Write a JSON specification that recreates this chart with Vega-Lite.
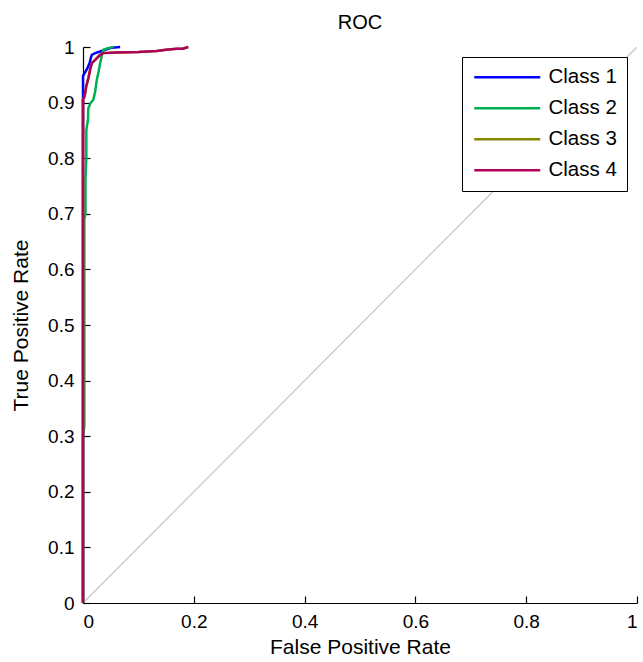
{
  "$schema": "https://vega.github.io/schema/vega-lite/v6.json",
  "autosize": "none",
  "width": 554,
  "height": 556,
  "padding": {"left": 83, "top": 47, "right": 6, "bottom": 59},
  "background": "white",
  "title": {"text": "ROC", "fontSize": 20, "font": "Liberation Sans", "fontWeight": "normal", "color": "black", "offset": 5},
  "config": {
    "view": {"stroke": null},
    "axis": {
      "domainColor": "black", "tickColor": "black", "labelColor": "black", "titleColor": "black",
      "labelFont": "Liberation Sans", "titleFont": "Liberation Sans", "labelFontSize": 19, "titleFontSize": 21,
      "titleFontWeight": "normal", "grid": false, "tickSize": -7, "labelPadding": 16, "domainWidth": 1.2, "tickWidth": 1.2
    }
  },
  "datasets": {
    "diag": [{"fpr": 0, "tpr": 0}, {"fpr": 1, "tpr": 1}],
    "roc": [
      {"cls": "Class 1", "ord": 1, "fpr": 0, "tpr": 0},
      {"cls": "Class 1", "ord": 2, "fpr": 0, "tpr": 0.948},
      {"cls": "Class 1", "ord": 3, "fpr": 0.004, "tpr": 0.955},
      {"cls": "Class 1", "ord": 4, "fpr": 0.008, "tpr": 0.962},
      {"cls": "Class 1", "ord": 5, "fpr": 0.012, "tpr": 0.971},
      {"cls": "Class 1", "ord": 6, "fpr": 0.014, "tpr": 0.98},
      {"cls": "Class 1", "ord": 7, "fpr": 0.016, "tpr": 0.986},
      {"cls": "Class 1", "ord": 8, "fpr": 0.022, "tpr": 0.989},
      {"cls": "Class 1", "ord": 9, "fpr": 0.031, "tpr": 0.992},
      {"cls": "Class 1", "ord": 10, "fpr": 0.04, "tpr": 0.995},
      {"cls": "Class 1", "ord": 11, "fpr": 0.049, "tpr": 0.998},
      {"cls": "Class 1", "ord": 12, "fpr": 0.058, "tpr": 0.999},
      {"cls": "Class 1", "ord": 13, "fpr": 0.067, "tpr": 1},
      {"cls": "Class 2", "ord": 1, "fpr": 0, "tpr": 0},
      {"cls": "Class 2", "ord": 2, "fpr": 0, "tpr": 0.3},
      {"cls": "Class 2", "ord": 3, "fpr": 0.0024, "tpr": 0.317},
      {"cls": "Class 2", "ord": 4, "fpr": 0.0024, "tpr": 0.69},
      {"cls": "Class 2", "ord": 5, "fpr": 0.0045, "tpr": 0.7},
      {"cls": "Class 2", "ord": 6, "fpr": 0.0045, "tpr": 0.76},
      {"cls": "Class 2", "ord": 7, "fpr": 0.006, "tpr": 0.8},
      {"cls": "Class 2", "ord": 8, "fpr": 0.006, "tpr": 0.85},
      {"cls": "Class 2", "ord": 9, "fpr": 0.009, "tpr": 0.87},
      {"cls": "Class 2", "ord": 10, "fpr": 0.0096, "tpr": 0.89},
      {"cls": "Class 2", "ord": 11, "fpr": 0.014, "tpr": 0.9},
      {"cls": "Class 2", "ord": 12, "fpr": 0.0186, "tpr": 0.905},
      {"cls": "Class 2", "ord": 13, "fpr": 0.022, "tpr": 0.92},
      {"cls": "Class 2", "ord": 14, "fpr": 0.0247, "tpr": 0.94},
      {"cls": "Class 2", "ord": 15, "fpr": 0.028, "tpr": 0.955},
      {"cls": "Class 2", "ord": 16, "fpr": 0.031, "tpr": 0.971},
      {"cls": "Class 2", "ord": 17, "fpr": 0.034, "tpr": 0.985},
      {"cls": "Class 2", "ord": 18, "fpr": 0.037, "tpr": 0.995},
      {"cls": "Class 2", "ord": 19, "fpr": 0.045, "tpr": 0.998},
      {"cls": "Class 2", "ord": 20, "fpr": 0.055, "tpr": 1},
      {"cls": "Class 3", "ord": 1, "fpr": 0, "tpr": 0},
      {"cls": "Class 3", "ord": 2, "fpr": 0, "tpr": 0.905},
      {"cls": "Class 3", "ord": 3, "fpr": 0.003, "tpr": 0.912},
      {"cls": "Class 3", "ord": 4, "fpr": 0.006, "tpr": 0.93},
      {"cls": "Class 3", "ord": 5, "fpr": 0.01, "tpr": 0.945},
      {"cls": "Class 3", "ord": 6, "fpr": 0.013, "tpr": 0.96},
      {"cls": "Class 3", "ord": 7, "fpr": 0.016, "tpr": 0.971},
      {"cls": "Class 3", "ord": 8, "fpr": 0.022, "tpr": 0.977},
      {"cls": "Class 3", "ord": 9, "fpr": 0.03, "tpr": 0.985},
      {"cls": "Class 3", "ord": 10, "fpr": 0.036, "tpr": 0.989},
      {"cls": "Class 3", "ord": 11, "fpr": 0.06, "tpr": 0.99},
      {"cls": "Class 3", "ord": 12, "fpr": 0.1, "tpr": 0.991},
      {"cls": "Class 3", "ord": 13, "fpr": 0.133, "tpr": 0.993},
      {"cls": "Class 3", "ord": 14, "fpr": 0.15, "tpr": 0.995},
      {"cls": "Class 3", "ord": 15, "fpr": 0.169, "tpr": 0.997},
      {"cls": "Class 3", "ord": 16, "fpr": 0.18, "tpr": 0.997},
      {"cls": "Class 3", "ord": 17, "fpr": 0.19, "tpr": 1},
      {"cls": "Class 4", "ord": 1, "fpr": 0, "tpr": 0},
      {"cls": "Class 4", "ord": 2, "fpr": 0, "tpr": 0.905},
      {"cls": "Class 4", "ord": 3, "fpr": 0.003, "tpr": 0.912},
      {"cls": "Class 4", "ord": 4, "fpr": 0.006, "tpr": 0.93},
      {"cls": "Class 4", "ord": 5, "fpr": 0.01, "tpr": 0.945},
      {"cls": "Class 4", "ord": 6, "fpr": 0.013, "tpr": 0.96},
      {"cls": "Class 4", "ord": 7, "fpr": 0.016, "tpr": 0.971},
      {"cls": "Class 4", "ord": 8, "fpr": 0.022, "tpr": 0.977},
      {"cls": "Class 4", "ord": 9, "fpr": 0.03, "tpr": 0.985},
      {"cls": "Class 4", "ord": 10, "fpr": 0.036, "tpr": 0.989},
      {"cls": "Class 4", "ord": 11, "fpr": 0.06, "tpr": 0.99},
      {"cls": "Class 4", "ord": 12, "fpr": 0.1, "tpr": 0.991},
      {"cls": "Class 4", "ord": 13, "fpr": 0.133, "tpr": 0.993},
      {"cls": "Class 4", "ord": 14, "fpr": 0.15, "tpr": 0.995},
      {"cls": "Class 4", "ord": 15, "fpr": 0.169, "tpr": 0.997},
      {"cls": "Class 4", "ord": 16, "fpr": 0.18, "tpr": 0.997},
      {"cls": "Class 4", "ord": 17, "fpr": 0.19, "tpr": 1}
    ]
  },
  "layer": [
    {
      "data": {"name": "diag"},
      "mark": {"type": "line", "color": "#c8c8c8", "strokeWidth": 1.3, "clip": true},
      "encoding": {
        "x": {"field": "fpr", "type": "quantitative", "scale": {"domain": [0, 1], "nice": false},
              "axis": {"title": "False Positive Rate", "values": [0, 0.2, 0.4, 0.6, 0.8, 1], "format": "~g", "titlePadding": 5}},
        "y": {"field": "tpr", "type": "quantitative", "scale": {"domain": [0, 1], "nice": false},
              "axis": {"title": "True Positive Rate", "values": [0, 0.1, 0.2, 0.3, 0.4, 0.5, 0.6, 0.7, 0.8, 0.9, 1], "format": "~g", "titlePadding": 16}}
      }
    },
    {
      "data": {"name": "roc"},
      "mark": {"type": "line", "strokeWidth": 2.5, "interpolate": "linear"},
      "encoding": {
        "x": {"field": "fpr", "type": "quantitative"},
        "y": {"field": "tpr", "type": "quantitative"},
        "order": {"field": "ord", "type": "quantitative"},
        "color": {
          "field": "cls", "type": "nominal",
          "scale": {"domain": ["Class 1", "Class 2", "Class 3", "Class 4"], "range": ["#0000ff", "#00b050", "#868600", "#b0005a"]},
          "legend": {
            "title": null, "orient": "top-right", "offset": 10,
            "strokeColor": "black", "fillColor": "white", "padding": 10,
            "labelFont": "Liberation Sans", "labelFontSize": 20.5, "labelColor": "black",
            "symbolType": "M-4.125,0H4.125", "symbolSize": 256, "symbolStrokeWidth": 2.5,
            "rowPadding": 10, "symbolOffset": 25, "labelOffset": 31
          }
        }
      }
    }
  ]
}
